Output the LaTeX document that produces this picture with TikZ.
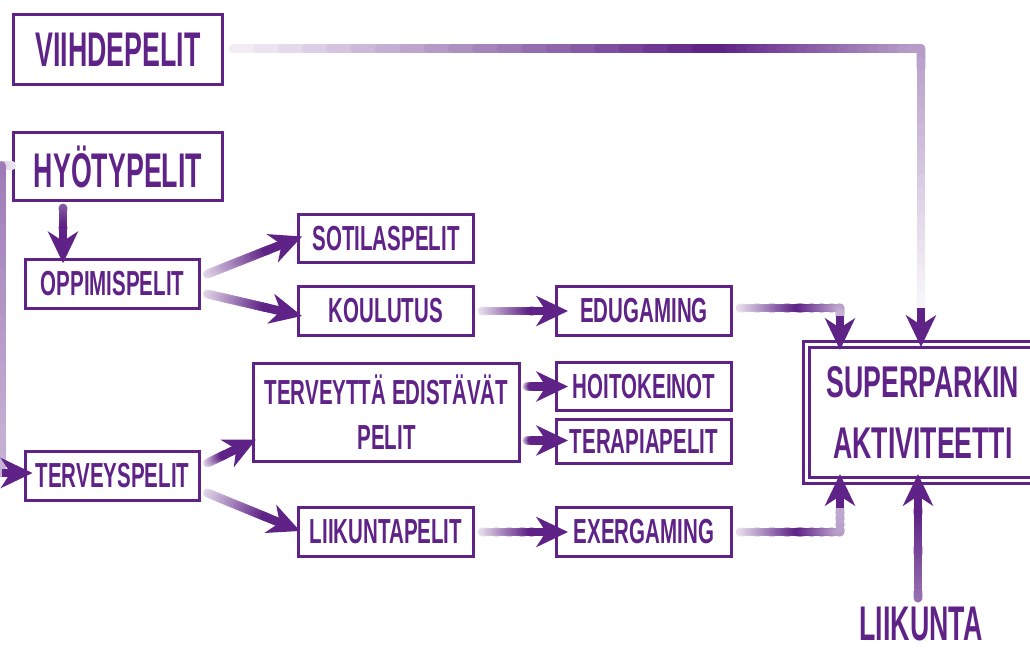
\documentclass[tikz,border=0pt]{standalone}
\usepackage{fontspec}
\usepackage{tikz}
\usetikzlibrary{arrows.meta,calc}

\newfontfamily\bigCond[FakeStretch=0.55]{Liberation Sans}
\newfontfamily\smallCond[FakeStretch=0.59]{Liberation Sans}
\newfontfamily\superCond[FakeStretch=0.6]{Liberation Sans}
\definecolor{vio}{RGB}{95,35,135}

% one straight leg of a connector, tint going from #3 to #4
\newcommand{\fadeLink}[4]{%
  \foreach \k [evaluate=\k as \tint using {int(#3+(#4-#3)*\k/19)}] in {0,...,19}
    \draw[linkLine, color=vio!\tint] ($(#1)!\k/20!(#2)$) -- ($(#1)!{min(1,(\k+1.5)/20)}!(#2)$);%
}
% straight connector with a solid head
\newcommand{\gradArrow}[3]{%
  \coordinate (gTip) at ($(#2)!20pt!(#1)$);
  \fadeLink{#1}{gTip}{#3}{100}
  \draw[linkHead] (gTip) -- (#2);%
}

\begin{document}
\begin{tikzpicture}[x=0.02cm, y=-0.02cm]
  \tikzstyle{bigBox} = [draw=vio, line width=1.7pt, text=vio, inner sep=0pt, minimum width=4.18cm, minimum height=1.40cm, font={\bigCond\bfseries\fontsize{27.7}{33}\selectfont}]
  \tikzstyle{gameBox} = [draw=vio, line width=1.7pt, text=vio, inner sep=0pt, minimum width=3.5cm, minimum height=0.97cm, font={\smallCond\bfseries\fontsize{19.8}{25.5}\selectfont}]
  \tikzstyle{superBox} = [draw=vio, double=white, line width=1.7pt, double distance=1.7pt, text=vio, inner sep=0pt, minimum width=4.66cm, minimum height=2.72cm, align=center, font={\superCond\bfseries\fontsize{25.3}{34.6}\selectfont}]
  \tikzstyle{bigText} = [text=vio, inner sep=0pt, font={\bigCond\bfseries\fontsize{27.7}{33}\selectfont}]

  \tikzstyle{linkLine} = [line width=5pt, line cap=round]
  \tikzstyle{linkHead} = [vio, line width=5pt, -{Stealth[length=18pt, width=17pt, inset=5.5pt]}]

  \useasboundingbox (0,0) rectangle (1030,648);
  \clip (0,0) rectangle (1030,648);

  \node[bigBox] (Viihde) at (118,49.5) {VIIHDEPELIT};
  \node[bigBox, minimum height=1.36cm] (Hyoty) at (118,166.5) {HYÖTYPELIT};
  \node[gameBox] (Oppimis) at (112.5,284) {OPPIMISPELIT};
  \node[gameBox] (Sotilas) at (386,238.5) {SOTILASPELIT};
  \node[gameBox] (Koulutus) at (386,311) {KOULUTUS};
  \node[gameBox] (Edugaming) at (644,311) {EDUGAMING};
  \node[gameBox] (Hoito) at (644,386.5) {HOITOKEINOT};
  \node[gameBox, minimum height=0.88cm] (Terapia) at (644,441.5) {TERAPIAPELIT};
  \node[gameBox] (Exergaming) at (644,532) {EXERGAMING};
  \node[gameBox, minimum width=5.32cm, minimum height=1.96cm, align=center] (Edistavat) at (386.5,412.5) {TERVEYTTÄ EDISTÄVÄT\\PELIT};
  \node[gameBox] (Terveys) at (112.5,476) {TERVEYSPELIT};
  \node[gameBox] (Liikuntapelit) at (386,532) {LIIKUNTAPELIT};
  \node[superBox] (Super) at (923,412.5) {SUPERPARKIN\\AKTIVITEETTI};
  \node[bigText, anchor=base] (Liikunta) at (921,640) {LIIKUNTA};

  % viihdepelit -> superparkin
  \coordinate (v0) at ($(Viihde.east)+(9,-1)$);
  \coordinate (v1) at (720,48.5);
  \coordinate (v2) at (921,48.5);
  \coordinate (v3) at (921,308);
  \coordinate (v4) at (921,347);
  \fadeLink{v0}{v1}{8}{100}
  \fadeLink{v1}{v2}{100}{45}
  \fadeLink{v2}{v3}{45}{5}
  \draw[linkHead] (v3) -- (v4);

  % hyotypelit -> terveyspelit, round the left edge
  \coordinate (h0) at ($(Hyoty.west)+(0,-1)$);
  \coordinate (h1) at (1.5,165.5);
  \coordinate (h2) at (1.5,473);
  \coordinate (h3) at ($(Terveys.west)+(9,-3)$);
  \fadeLink{h0}{h1}{10}{20}
  \fadeLink{h1}{h2}{60}{35}
  \draw[linkHead] (h2) -- (h3);

  % hyotypelit -> oppimispelit
  \coordinate (o0) at ($(Hyoty.south)+(-55,6)$);
  \coordinate (o1) at ($(Oppimis.north)+(-49.5,5)$);
  \gradArrow{o0}{o1}{75}

  % oppimispelit -> sotilaspelit, koulutus
  \coordinate (os0) at ($(Oppimis.east)+(6,-10)$);
  \coordinate (os1) at ($(Sotilas.west)+(5,-2)$);
  \gradArrow{os0}{os1}{20}
  \coordinate (ok0) at ($(Oppimis.east)+(6,10)$);
  \coordinate (ok1) at ($(Koulutus.west)+(5,5)$);
  \gradArrow{ok0}{ok1}{20}

  % koulutus -> edugaming
  \coordinate (ke0) at ($(Koulutus.east)+(7,0)$);
  \coordinate (ke1) at ($(Edugaming.west)+(13,0)$);
  \gradArrow{ke0}{ke1}{15}

  % edugaming -> superparkin
  \coordinate (es0) at ($(Edugaming.east)+(7,-3)$);
  \coordinate (es1) at (800,308);
  \coordinate (es2) at (840,308);
  \coordinate (es3) at (840,316);
  \coordinate (es4) at (840,350);
  \fadeLink{es0}{es1}{15}{100}
  \fadeLink{es1}{es2}{100}{45}
  \fadeLink{es2}{es3}{45}{35}
  \draw[linkHead] (es3) -- (es4);

  % terveyspelit -> edistavat, liikuntapelit
  \coordinate (te0) at ($(Terveys.east)+(6,-13)$);
  \coordinate (te1) at ($(Edistavat.west)+(4,27)$);
  \gradArrow{te0}{te1}{20}
  \coordinate (tl0) at ($(Terveys.east)+(6,17)$);
  \coordinate (tl1) at ($(Liikuntapelit.west)+(3,-1)$);
  \gradArrow{tl0}{tl1}{20}

  % edistavat -> hoitokeinot, terapiapelit
  \coordinate (eh0) at ($(Edistavat.east |- Hoito.west)+(6,0)$);
  \coordinate (eh1) at ($(Hoito.west)+(13,0)$);
  \gradArrow{eh0}{eh1}{25}
  \coordinate (et0) at ($(Edistavat.east |- Terapia.west)+(6,-1)$);
  \coordinate (et1) at ($(Terapia.west)+(13,-1)$);
  \gradArrow{et0}{et1}{25}

  % liikuntapelit -> exergaming
  \coordinate (lx0) at ($(Liikuntapelit.east)+(7,0)$);
  \coordinate (lx1) at ($(Exergaming.west)+(13,0)$);
  \gradArrow{lx0}{lx1}{15}

  % exergaming -> superparkin
  \coordinate (xs0) at ($(Exergaming.east)+(7,0)$);
  \coordinate (xs1) at (800,532);
  \coordinate (xs2) at (840,532);
  \coordinate (xs3) at (840,508);
  \coordinate (xs4) at (840,474);
  \fadeLink{xs0}{xs1}{15}{100}
  \fadeLink{xs1}{xs2}{100}{45}
  \fadeLink{xs2}{xs3}{45}{40}
  \draw[linkHead] (xs3) -- (xs4);

  % liikunta -> superparkin
  \coordinate (ls0) at ($(Liikunta.north)+(-3,-8)$);
  \coordinate (ls1) at (918,474);
  \gradArrow{ls0}{ls1}{65}
\end{tikzpicture}
\end{document}
